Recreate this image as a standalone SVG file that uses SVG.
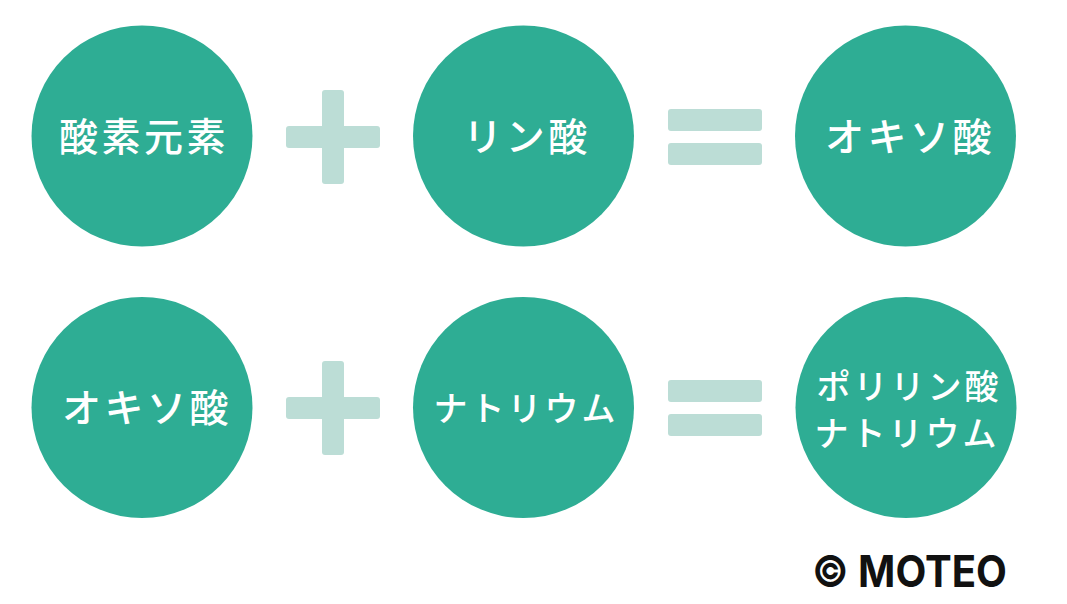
<svg xmlns="http://www.w3.org/2000/svg" width="1067" height="604" viewBox="0 0 1067 604">
<style>
.node{fill:#2EAD94}
.op{fill:#BCDDD6}
.lbl{fill:#fff;font-family:"Noto Sans CJK JP","Noto Sans",sans-serif;font-weight:500;text-anchor:middle}
.big{font-size:39px;letter-spacing:3.5px}
.sm{font-size:34px;letter-spacing:3px}
.copy{fill:#111;font-family:Inter,"Liberation Sans",sans-serif;font-weight:700;font-size:44px}
</style>
<rect width="1067" height="604" fill="#fff"/>
<g id="operators">
<g id="plus1"><rect class="op" x="286" y="126" width="94" height="22" rx="3"/><rect class="op" x="322" y="90" width="22" height="94" rx="3"/></g>
<g id="equals1"><rect class="op" x="668" y="109" width="94" height="22" rx="3"/><rect class="op" x="668" y="143" width="94" height="22" rx="3"/></g>
<g id="plus2"><rect class="op" x="286" y="397" width="94" height="22" rx="3"/><rect class="op" x="322" y="361" width="22" height="94" rx="3"/></g>
<g id="equals2"><rect class="op" x="668" y="380" width="94" height="22" rx="3"/><rect class="op" x="668" y="414" width="94" height="22" rx="3"/></g>
</g>
<g id="n1"><circle class="node" cx="142" cy="136" r="110.5"/><text class="lbl big" x="144" y="151">酸素元素</text></g>
<g id="n2"><circle class="node" cx="523.5" cy="136" r="110.5"/><text class="lbl big" x="527" y="151">リン酸</text></g>
<g id="n3"><circle class="node" cx="905.5" cy="136" r="110.5"/><text class="lbl big" x="910" y="151">オキソ酸</text></g>
<g id="n4"><circle class="node" cx="142" cy="407.5" r="110.5"/><text class="lbl big" x="147" y="422">オキソ酸</text></g>
<g id="n5"><circle class="node" cx="523.5" cy="407.5" r="110.5"/><text class="lbl sm" x="526" y="421">ナトリウム</text></g>
<g id="n6"><circle class="node" cx="906" cy="407.5" r="110.5"/><text class="lbl sm" x="909" y="399">ポリリン酸</text><text class="lbl sm" x="907" y="446">ナトリウム</text></g>
<text class="copy" x="812" y="587" textLength="195" lengthAdjust="spacingAndGlyphs">© MOTEO</text>
</svg>
